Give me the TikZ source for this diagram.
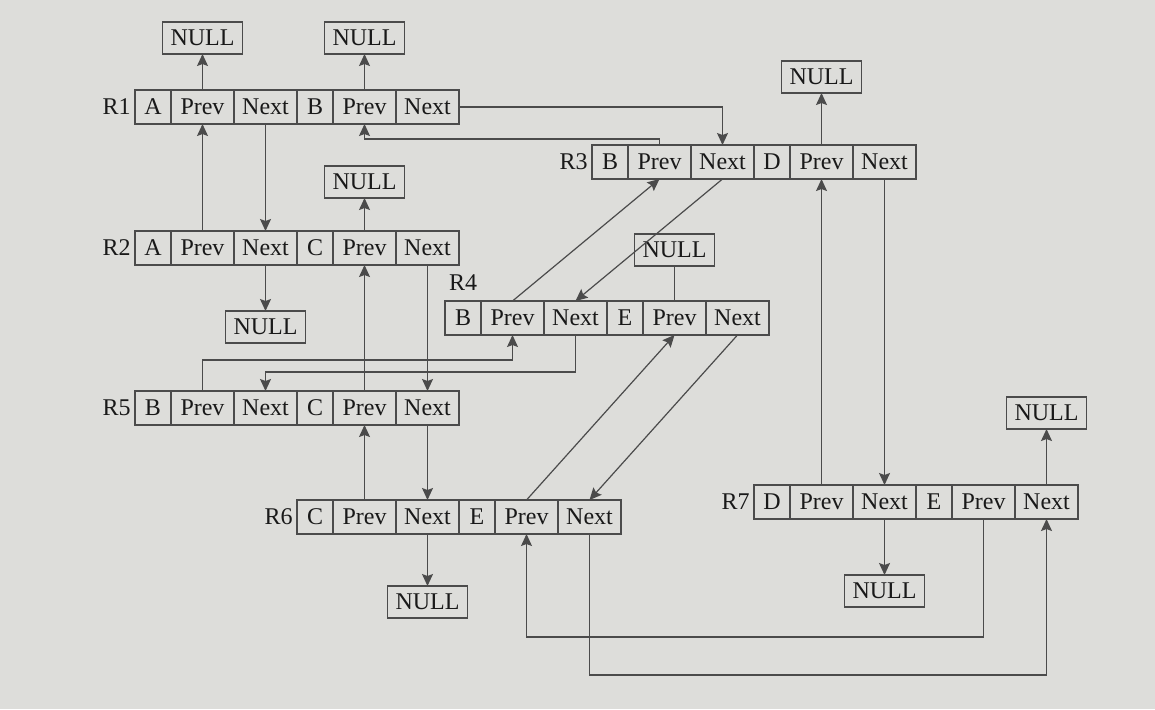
\documentclass[tikz,border=0pt]{standalone}
\usepackage{fontspec}
\setmainfont{Liberation Serif}
\usetikzlibrary{positioning,arrows.meta}

\definecolor{paper}{RGB}{221,221,218}
\definecolor{inkline}{RGB}{75,75,75}
\definecolor{inktext}{RGB}{25,25,25}

\tikzset{
  cell/.style={draw=inkline, line width=0.6pt, minimum height=17pt, inner sep=0pt,
    outer sep=0pt, text=inktext, font=\fontsize{12}{14}\selectfont},
  keyCell/.style={cell, minimum width=18pt},
  ptrCell/.style={cell, minimum width=31.5pt},
  nullBox/.style={cell, minimum width=40pt, minimum height=16pt},
  recLabel/.style={inner sep=0pt, text=inktext, font=\fontsize{12}{14}\selectfont},
  ptr/.style={draw=inkline, line width=0.6pt, -{Stealth[length=6pt,width=5.5pt,inset=1pt]}},
  link/.style={draw=inkline, line width=0.6pt},
}

% one record: [label side]{name}{position}{key 1}{key 2}
\newcommand{\recordrow}[5][left=2pt]{%
  \node[keyCell, anchor=west] (#2-a) at #3 {#4};
  \node[ptrCell, right=0pt of #2-a] (#2-p1) {Prev};
  \node[ptrCell, right=0pt of #2-p1] (#2-n1) {Next};
  \node[keyCell, right=0pt of #2-n1] (#2-b) {#5};
  \node[ptrCell, right=0pt of #2-b] (#2-p2) {Prev};
  \node[ptrCell, right=0pt of #2-p2] (#2-n2) {Next};
  \node[recLabel, #1 of #2-a] (#2-lbl) {#2};
}

\begin{document}
\begin{tikzpicture}[x=0.5pt, y=-0.5pt]
  \fill[paper] (0,0) rectangle (1155,709);
  \useasboundingbox (0,0) rectangle (1155,709);

  % records
  \recordrow{R1}{(135,107)}{A}{B}
  \recordrow{R2}{(135,248)}{A}{C}
  \recordrow{R3}{(592,162)}{B}{D}
  \recordrow[above=5pt]{R4}{(445,318)}{B}{E}
  \recordrow{R5}{(135,408)}{B}{C}
  \recordrow{R6}{(297,517)}{C}{E}
  \recordrow{R7}{(754,502)}{D}{E}

  % NULL ends
  \node[nullBox, above=18pt of R1-p1] (null1a) {NULL};
  \node[nullBox, above=18pt of R1-p2] (null1b) {NULL};
  \node[nullBox, above=16.5pt of R2-p2] (null2a) {NULL};
  \node[nullBox, below=23pt of R2-n1] (null2b) {NULL};
  \node[nullBox, above=26pt of R3-p2] (null3) {NULL};
  \node[nullBox, above=17.5pt of R4-p2] (null4) {NULL};
  \node[nullBox, below=26pt of R6-n1] (null6) {NULL};
  \node[nullBox, below=28pt of R7-n1] (null7a) {NULL};
  \node[nullBox, above=28pt of R7-n2] (null7b) {NULL};

  \draw[ptr] (R1-p1.north) -- (null1a.south);
  \draw[ptr] (R1-p2.north) -- (null1b.south);
  \draw[ptr] (R2-p2.north) -- (null2a.south);
  \draw[ptr] (R2-n1.south) -- (null2b.north);
  \draw[ptr] (R3-p2.north) -- (null3.south);
  \draw[link] (R4-p2.north) -- (null4.south);
  \draw[ptr] (R6-n1.south) -- (null6.north);
  \draw[ptr] (R7-n1.south) -- (null7a.north);
  \draw[ptr] (R7-n2.north) -- (null7b.south);

  % links between records
  \draw[ptr] (R1-n1.south) -- (R2-n1.north);
  \draw[ptr] (R2-p1.north) -- (R1-p1.south);
  \draw[ptr] (R1-n2.east) -| (R3-n1.north);
  \draw[ptr] (R3-p1.north) -- ++(0,3pt) -| (R1-p2.south);
  \draw[ptr] (R2-n2.south) -- (R5-n2.north);
  \draw[ptr] (R5-p2.north) -- (R2-p2.south);
  \draw[ptr] (R3-n1.south) -- (R4-n1.north);
  \draw[ptr] (R4-p1.north) -- (R3-p1.south);
  \draw[ptr] (R3-n2.south) -- (R7-n1.north);
  \draw[ptr] (R7-p1.north) -- (R3-p2.south);
  \draw[ptr] (R4-n1.south) -- ++(0,-18.5pt) -| (R5-n1.north);
  \draw[ptr] (R5-p1.north) -- ++(0,15.5pt) -| (R4-p1.south);
  \draw[ptr] (R5-n2.south) -- (R6-n1.north);
  \draw[ptr] (R6-p1.north) -- (R5-p2.south);
  \draw[ptr] (R4-n2.south) -- (R6-n2.north);
  \draw[ptr] (R6-p2.north) -- (R4-p2.south);
  \draw[ptr] (R7-p2.south) -- ++(0,-59pt) -| (R6-p2.south);
  \draw[ptr] (R6-n2.south) -- ++(0,-70.5pt) -| (R7-n2.south);
\end{tikzpicture}
\end{document}
